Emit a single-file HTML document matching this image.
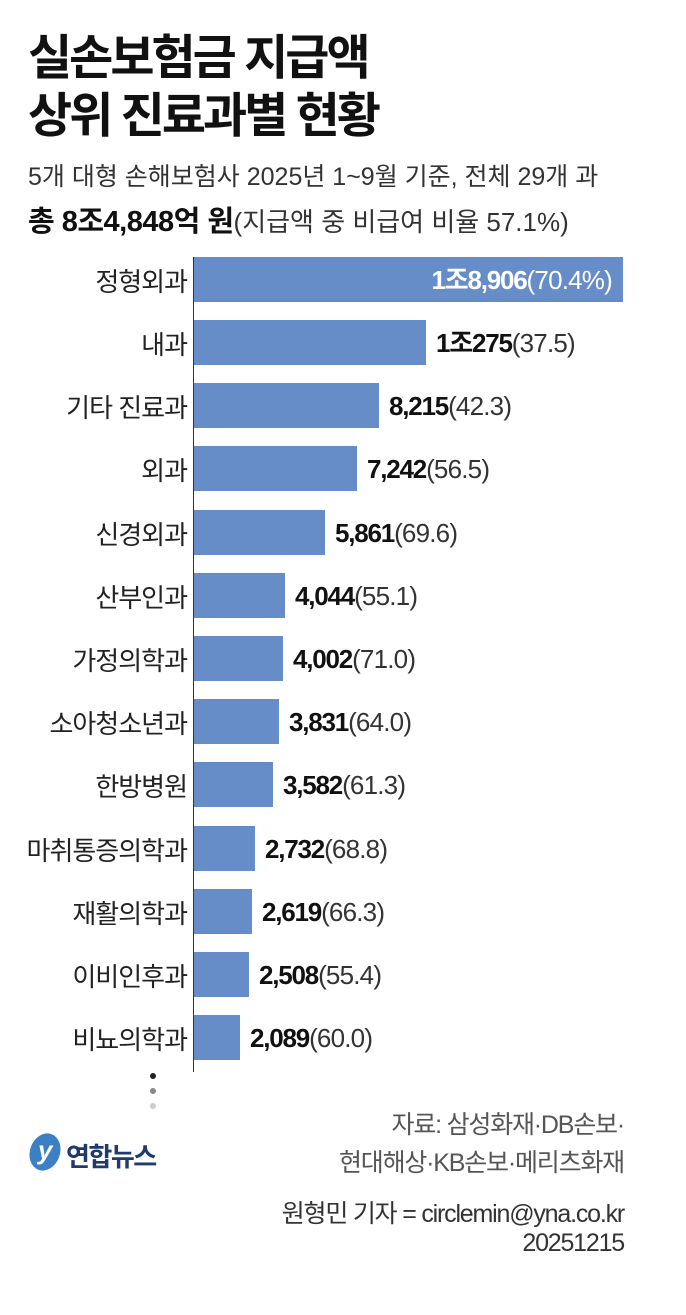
<!DOCTYPE html>
<html><head><meta charset="utf-8"><style>
body{margin:0;width:686px;height:1315px;background:#fff;position:relative;overflow:hidden;font-family:"Liberation Sans","Noto Sans CJK KR",sans-serif;color:#111}
.a{position:absolute;white-space:nowrap}
.t{left:28px;font-size:48px;font-weight:bold;letter-spacing:-3px;line-height:54px}
.lab{right:499px;font-size:26px;letter-spacing:-1px;color:#222;line-height:30px}
.bar{position:absolute;left:194px;height:45px;background:#678dc9}
.val{font-size:26px;line-height:30px;letter-spacing:-0.8px;color:#111}
.val b{letter-spacing:-1.2px}
.val span{color:#333}
</style></head><body>
<div class="a t" style="top:32px">실손보험금 지급액</div>
<div class="a t" style="top:90px">상위 진료과별 현황</div>
<div class="a" style="left:28px;top:157px;font-size:25px;letter-spacing:0px;color:#333">5개 대형 손해보험사 2025년 1~9월 기준, 전체 29개 과</div>
<div class="a" style="left:28px;top:198px;font-size:26px;letter-spacing:0px;color:#333"><b style="color:#111;font-size:29px;letter-spacing:-0.5px">총 8조4,848억 원</b>(지급액 중 비급여 비율 57.1%)</div>
<div class="a" style="left:193px;top:257px;width:1px;height:815px;background:#333"></div>

<div class="bar" style="top:257px;width:429px"></div>
<div class="a val" style="right:74px;top:265px;color:#fff"><b>1조8,906</b>(70.4%)</div>
<div class="a lab" style="top:267px">정형외과</div>

<div class="bar" style="top:320px;width:232px"></div>
<div class="a val" style="left:436px;top:328px"><b>1조275</b><span>(37.5)</span></div>
<div class="a lab" style="top:330px">내과</div>

<div class="bar" style="top:383px;width:185px"></div>
<div class="a val" style="left:389px;top:391px"><b>8,215</b><span>(42.3)</span></div>
<div class="a lab" style="top:393px">기타 진료과</div>

<div class="bar" style="top:446px;width:163px"></div>
<div class="a val" style="left:367px;top:454px"><b>7,242</b><span>(56.5)</span></div>
<div class="a lab" style="top:456px">외과</div>

<div class="bar" style="top:510px;width:131px"></div>
<div class="a val" style="left:335px;top:518px"><b>5,861</b><span>(69.6)</span></div>
<div class="a lab" style="top:520px">신경외과</div>

<div class="bar" style="top:573px;width:91px"></div>
<div class="a val" style="left:295px;top:581px"><b>4,044</b><span>(55.1)</span></div>
<div class="a lab" style="top:583px">산부인과</div>

<div class="bar" style="top:636px;width:89px"></div>
<div class="a val" style="left:293px;top:644px"><b>4,002</b><span>(71.0)</span></div>
<div class="a lab" style="top:646px">가정의학과</div>

<div class="bar" style="top:699px;width:85px"></div>
<div class="a val" style="left:289px;top:707px"><b>3,831</b><span>(64.0)</span></div>
<div class="a lab" style="top:709px">소아청소년과</div>

<div class="bar" style="top:762px;width:79px"></div>
<div class="a val" style="left:283px;top:770px"><b>3,582</b><span>(61.3)</span></div>
<div class="a lab" style="top:772px">한방병원</div>

<div class="bar" style="top:826px;width:61px"></div>
<div class="a val" style="left:265px;top:834px"><b>2,732</b><span>(68.8)</span></div>
<div class="a lab" style="top:836px">마취통증의학과</div>

<div class="bar" style="top:889px;width:58px"></div>
<div class="a val" style="left:262px;top:897px"><b>2,619</b><span>(66.3)</span></div>
<div class="a lab" style="top:899px">재활의학과</div>

<div class="bar" style="top:952px;width:55px"></div>
<div class="a val" style="left:259px;top:960px"><b>2,508</b><span>(55.4)</span></div>
<div class="a lab" style="top:962px">이비인후과</div>

<div class="bar" style="top:1015px;width:46px"></div>
<div class="a val" style="left:250px;top:1023px"><b>2,089</b><span>(60.0)</span></div>
<div class="a lab" style="top:1025px">비뇨의학과</div>

<div class="a" style="left:150px;top:1073px;width:6px;height:6px;border-radius:50%;background:#222"></div>
<div class="a" style="left:150px;top:1088px;width:6px;height:6px;border-radius:50%;background:#888"></div>
<div class="a" style="left:150px;top:1103px;width:6px;height:6px;border-radius:50%;background:#ccc"></div>

<div class="a" style="left:30px;top:1133px;width:30px;height:38px;border-radius:50%;background:#3b7fc4;transform:rotate(20deg)"></div>
<div class="a" style="left:38px;top:1135px;color:#fff;font-weight:bold;font-size:26px;font-style:italic">y</div>
<div class="a" style="left:66px;top:1137px;font-size:26px;font-weight:bold;color:#1f3a6e;letter-spacing:-1.5px">연합뉴스</div>

<div class="a" style="right:62px;top:1106px;font-size:25px;letter-spacing:-1.2px;color:#555;text-align:right;line-height:38px">자료: 삼성화재·DB손보·<br>현대해상·KB손보·메리츠화재</div>
<div class="a" style="right:62px;top:1200px;font-size:25px;letter-spacing:-1.2px;color:#333;text-align:right;line-height:29px">원형민 기자 = circlemin@yna.co.kr<br>20251215</div>
</body></html>
